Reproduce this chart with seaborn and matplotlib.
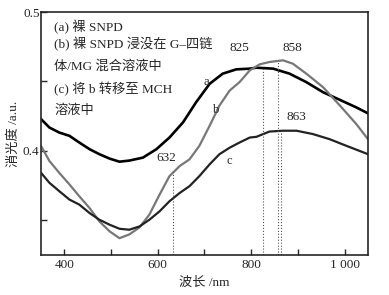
import matplotlib
matplotlib.use("Agg")
import matplotlib.pyplot as plt
import numpy as np
import pandas as pd
import seaborn as sns

# data (wavelength nm, extinction a.u.)
wl_a = [350, 368, 389, 411, 432, 454, 475, 497, 518, 539, 568, 597, 625, 654,
        682, 711, 739, 768, 797, 811, 847, 882, 918, 954, 990, 1025, 1050]
ext_a = [0.4229, 0.4168, 0.4132, 0.4108, 0.4060, 0.4012, 0.3976, 0.3944, 0.3922,
         0.3930, 0.3951, 0.4012, 0.4096, 0.4205, 0.4350, 0.4483, 0.4556, 0.4587,
         0.4592, 0.4599, 0.4592, 0.4556, 0.4495, 0.4422, 0.4367, 0.4313, 0.4270]

wl_b = [350, 368, 389, 411, 432, 454, 475, 497, 518, 539, 561, 582, 604, 625,
        647, 668, 689, 711, 732, 754, 775, 797, 818, 839, 868, 889, 918, 954,
        990, 1025, 1050]
ext_b = [0.4036, 0.3927, 0.3842, 0.3758, 0.3673, 0.3588, 0.3492, 0.3420, 0.3371,
         0.3398, 0.3449, 0.3541, 0.3686, 0.3818, 0.3891, 0.3939, 0.4036, 0.4181,
         0.4326, 0.4435, 0.4495, 0.4580, 0.4623, 0.4640, 0.4652, 0.4628, 0.4556,
         0.4458, 0.4326, 0.4193, 0.4084]

wl_c = [350, 368, 389, 411, 432, 454, 475, 497, 518, 539, 561, 582, 604, 625,
        647, 668, 689, 711, 732, 754, 775, 797, 811, 839, 868, 897, 932, 968,
        1004, 1050]
ext_c = [0.3842, 0.3770, 0.3710, 0.3649, 0.3613, 0.3552, 0.3504, 0.3468, 0.3439,
         0.3432, 0.3456, 0.3504, 0.3565, 0.3637, 0.3697, 0.3746, 0.3818, 0.3903,
         0.3976, 0.4023, 0.4060, 0.4096, 0.4101, 0.4139, 0.4145, 0.4145, 0.4121,
         0.4084, 0.4036, 0.3976]

peak_wl = [632, 825, 858, 863]
peak_top = [0.3845, 0.4597, 0.4648, 0.4145]

legend_lines = ["(a) 裸 SNPD", "(b) 裸 SNPD 浸没在 G–四链", "体/MG 混合溶液中",
                "(c) 将 b 转移至 MCH", "溶液中"]

sns.set_style("ticks")
plt.rcParams['font.family'] = ['Liberation Serif', 'Noto Sans CJK SC']

fig = plt.figure(figsize=(3.89, 2.95), dpi=100)
ax = fig.add_axes([0.1054, 0.1356, 0.8406, 0.8237])

line_kw = dict(solid_joinstyle='round', solid_capstyle='round')
sns.lineplot(x=wl_a, y=ext_a, color='black', lw=1.9, ax=ax, **line_kw)
sns.lineplot(x=wl_b, y=ext_b, color='#777777', lw=1.6, ax=ax, **line_kw)
sns.lineplot(x=wl_c, y=ext_c, color='#222222', lw=1.6, ax=ax, **line_kw)

# dotted markers down from the peaks
ax.vlines(peak_wl, 0.325, peak_top, colors='#555555', linestyles=':', lw=0.8)

ax.text(775, 0.4739, '825', ha='center', va='center', fontsize=9.5)
ax.text(889, 0.4739, '858', ha='center', va='center', fontsize=9.5)
ax.text(897, 0.4246, '863', ha='center', va='center', fontsize=9.5)
ax.text(618, 0.3951, '632', ha='center', va='center', fontsize=9.5)
ax.text(704, 0.4493, 'a', ha='center', va='center', fontsize=9)
ax.text(725, 0.4297, 'b', ha='center', va='center', fontsize=9)
ax.text(754, 0.3927, 'c', ha='center', va='center', fontsize=9)

legend_y = [0.4891, 0.4768, 0.4609, 0.4442, 0.4290]
for txt, yy in zip(legend_lines, legend_y):
    ax.text(378, yy, txt, ha='left', va='center', fontsize=9.5)

ax.set_xlim(350, 1050)
ax.set_ylim(0.325, 0.5)
ax.set_xticks([400, 600, 800, 1000])
ax.set_xticklabels(['400', '600', '800', '1 000'])
ax.set_xticks([500, 700, 900], minor=True)
ax.set_yticks([0.4, 0.5])
ax.set_yticklabels(['0.4', '0.5'])
ax.set_yticks([0.35, 0.45], minor=True)
ax.tick_params(which='both', direction='in', length=4, width=1, labelsize=9.5)
ax.tick_params(axis='y', pad=1)
ax.tick_params(axis='x', pad=3)

for sp in ax.spines.values():
    sp.set_linewidth(1.2)
    sp.set_visible(True)

ax.set_xlabel('波长 /nm', fontsize=9.5, labelpad=4)
ax.set_ylabel('消光度 /a.u.', fontsize=9.5, labelpad=2)

fig.savefig('out.png', dpi=100)
